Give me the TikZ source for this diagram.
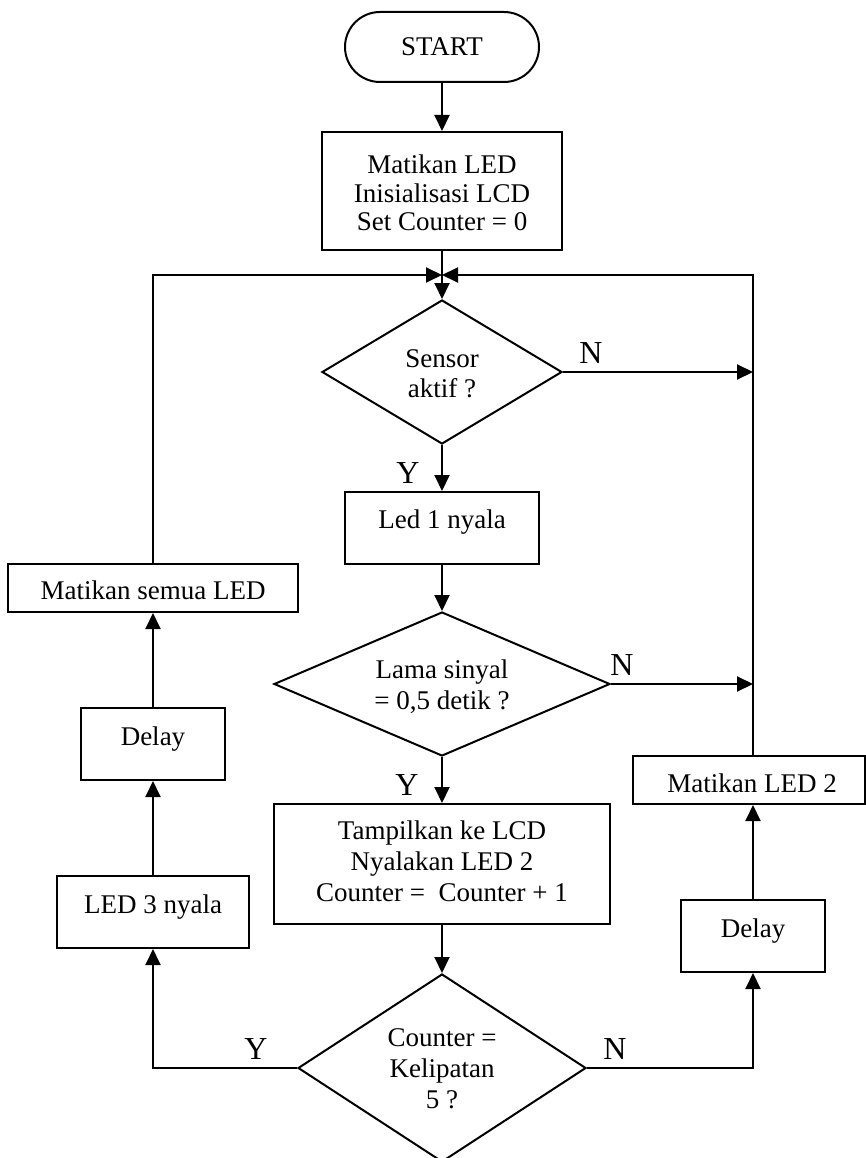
\documentclass[tikz,border=0pt]{standalone}
\usepackage{fontspec}
\setmainfont{Liberation Serif}
\usetikzlibrary{arrows.meta,shapes.geometric,shapes.misc}
\begin{document}
\begin{tikzpicture}[x=1pt,y=-1pt,line width=2pt,
  box/.style={draw,rectangle,inner sep=0pt},
  dia/.style={draw,diamond,inner sep=0pt},
  term/.style={draw,rounded rectangle,inner sep=0pt,font=\fontsize{27}{30}\selectfont},
  txt/.style={anchor=base,inner sep=0pt,font=\fontsize{27}{30}\selectfont},
  lbl/.style={anchor=base,inner sep=0pt,font=\fontsize{32}{36}\selectfont},
  arr/.style={-{Triangle[length=16pt,width=15pt]}}]
\useasboundingbox (0,0) rectangle (866,1158);
\fill[white] (0,0) rectangle (866,1158);

% shapes
\node[term,minimum width=194pt,minimum height=70pt] (start) at (442,47) {START};
\node[box,minimum width=240pt,minimum height=118pt] (init) at (442,191) {};
\node[dia,minimum width=240pt,minimum height=144pt] (dec1) at (442,372) {};
\node[box,minimum width=194pt,minimum height=72pt] (led1) at (442,528) {};
\node[dia,minimum width=336pt,minimum height=144pt] (dec2) at (442,684) {};
\node[box,minimum width=336pt,minimum height=120pt] (disp) at (442,864) {};
\node[dia,minimum width=288pt,minimum height=188pt] (dec3) at (442,1068) {};
\node[box,minimum width=192pt,minimum height=72pt] (led3) at (153,912) {};
\node[box,minimum width=144pt,minimum height=72pt] (delayL) at (153,744) {};
\node[box,minimum width=290pt,minimum height=48pt] (offall) at (153,588) {};
\node[box,minimum width=144pt,minimum height=72pt] (delayR) at (753,936) {};
\node[box,minimum width=232pt,minimum height=48pt] (off2) at (749,780) {};

% texts
\node[txt] (i1) at (442,174) {Matikan LED};
\node[txt] (i2) at (442,203) {Inisialisasi LCD};
\node[txt] (i3) at (442,231) {Set Counter = 0};
\node[txt] (s1) at (442,367) {Sensor};
\node[txt] (s2) at (442,397) {aktif ?};
\node[txt] (l1) at (442,528) {Led 1 nyala};
\node[txt] (q1) at (442,678) {Lama sinyal};
\node[txt] (q2) at (442,709) {= 0,5 detik ?};
\node[txt] (d1) at (442,839) {Tampilkan ke LCD};
\node[txt] (d2) at (442,870) {Nyalakan LED 2};
\node[txt] (d3) at (442,901) {Counter = ~Counter + 1};
\node[txt] (c1) at (442,1046) {Counter =};
\node[txt] (c2) at (442,1077) {Kelipatan};
\node[txt] (c3) at (442,1108) {5 ?};
\node[txt] (l3) at (153,913) {LED 3 nyala};
\node[txt] (dl) at (153,745) {Delay};
\node[txt] (oa) at (153,599) {Matikan semua LED};
\node[txt] (dr) at (753,937) {Delay};
\node[txt] (o2) at (752,792) {Matikan LED 2};

% labels
\node[lbl] (n1) at (591,363) {N};
\node[lbl] (y1) at (408,483) {Y};
\node[lbl] (n2) at (622,675) {N};
\node[lbl] (y2) at (407,795) {Y};
\node[lbl] (y3) at (256,1059) {Y};
\node[lbl] (n3) at (615,1059) {N};

% helper coordinates
\coordinate (m) at (442,275);
\coordinate (R) at (753,275);

% connectors
\draw[arr] (start.south) -- (init.north);
\draw[arr] (init.south) -- (dec1.north);
\draw[arr] (offall.north) |- (m);
\draw[arr] (off2.north -| R) |- (m);
\draw[arr] (dec1.east) -- (dec1.east -| R);
\draw[arr] (dec2.east) -- (dec2.east -| R);
\draw[arr] (dec1.south) -- (led1.north);
\draw[arr] (led1.south) -- (dec2.north);
\draw[arr] (dec2.south) -- (disp.north);
\draw[arr] (disp.south) -- (dec3.north);
\draw[arr] (dec3.west) -| (led3.south);
\draw[arr] (led3.north) -- (delayL.south);
\draw[arr] (delayL.north) -- (offall.south);
\draw[arr] (dec3.east) -| (delayR.south);
\draw[arr] (delayR.north) -- (delayR.north |- off2.south);
\end{tikzpicture}
\end{document}
